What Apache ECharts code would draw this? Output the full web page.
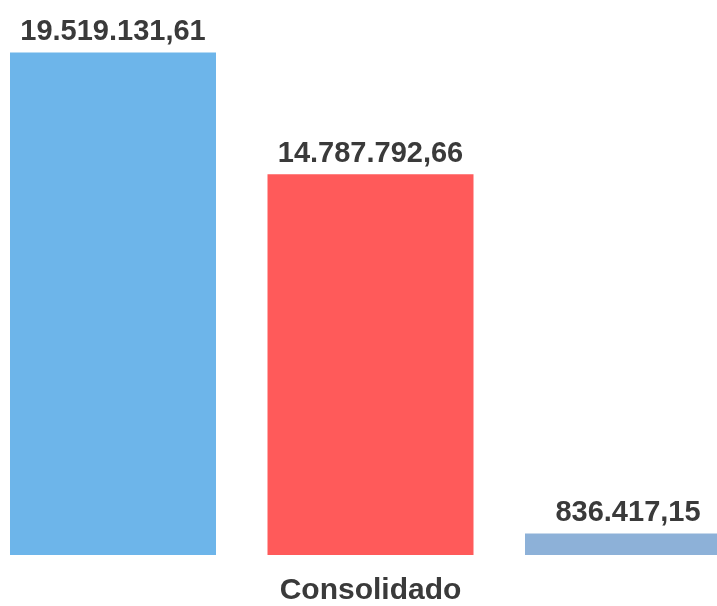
<!DOCTYPE html>
<html><head><meta charset="utf-8">
<script src="https://cdn.jsdelivr.net/npm/echarts@6/dist/echarts.min.js"></script>
<style>html,body{margin:0;padding:0;background:#fff}#c{width:717px;height:606px}</style>
</head><body><div id="c"></div>
<script>
const categories = ['Consolidado'];
const seriesNames = ['Serie 1', 'Serie 2', 'Serie 3'];
const seriesValues = [19519131.61, 14787792.66, 836417.15];
const colors = ['#6db5ea', '#ff5a5a', '#8db1d8'];

function fmt(v) {
  const parts = v.toFixed(2).split('.');
  parts[0] = parts[0].replace(/\B(?=(\d{3})+(?!\d))/g, '.');
  return parts[0] + ',' + parts[1];
}

const chart = echarts.init(document.getElementById('c'));
chart.setOption({
  animation: false,
  grid: { left: 24, right: 0, top: 40, bottom: 50 },
  xAxis: {
    type: 'category', data: categories,
    axisLine: { show: false }, axisTick: { show: false },
    axisLabel: { fontSize: 30, fontWeight: 'bold', color: '#3a3a3a', fontFamily: 'Liberation Sans', margin: 21 }
  },
  yAxis: { type: 'value', min: 0, max: 20000000, show: false, splitLine: { show: false } },
  series: seriesValues.map((v, i) => ({
    type: 'bar', name: seriesNames[i], data: [v], clip: false,
    barWidth: 206, barGap: '25%',
    itemStyle: { color: colors[i] },
    label: {
      show: true, position: 'top', distance: 6,
      formatter: p => fmt(p.value),
      fontSize: 29, fontWeight: 'bold', color: '#3a3a3a', fontFamily: 'Liberation Sans'
    }
  }))
});
</script></body></html>
